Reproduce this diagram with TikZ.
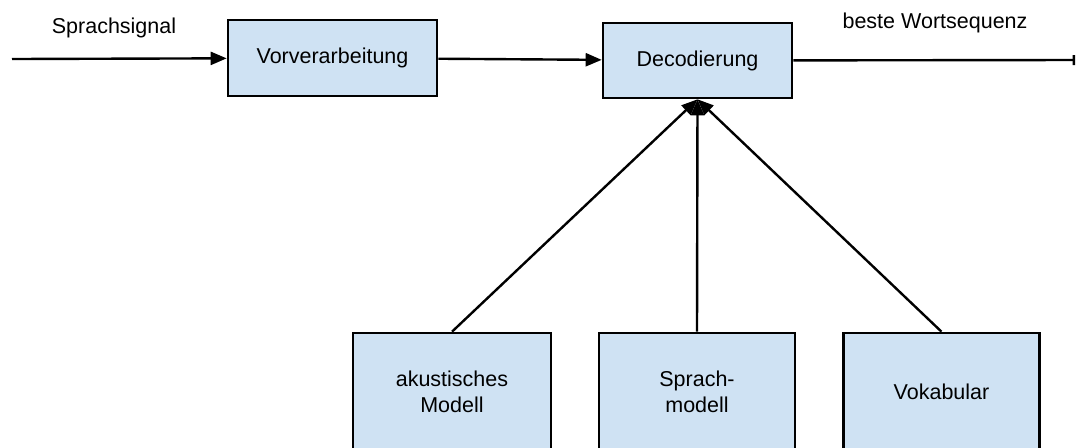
\documentclass[tikz,border=0pt]{standalone}
\usepackage{fontspec}
\setmainfont{Liberation Sans}
\usetikzlibrary{arrows.meta,positioning}
\definecolor{boxblue}{HTML}{CFE2F3}
\tikzset{
  blockbox/.style={draw,line width=1.3pt,fill=boxblue,align=center,
    font=\fontsize{10.75}{13}\selectfont},
  flow/.style={line width=1.2pt,-{Triangle[length=8pt,width=6.5pt]}}
}
\begin{document}
\begin{tikzpicture}[x=0.5pt,y=-0.5pt,font=\fontsize{10.75}{13}\selectfont]
    \useasboundingbox (0,0) rectangle (1076,447);
    \node[blockbox,minimum width=104.5pt,minimum height=38pt] (vor) at (332.5,58) {Vorverarbeitung};
    \node[blockbox,minimum width=94.5pt,minimum height=37.5pt] (dec) at (697.5,60.5) {Decodierung};
    \node[blockbox,minimum width=99pt,minimum height=59pt] (akm) at (452,392) {akustisches\\Modell};
    \node[blockbox,minimum width=98pt,minimum height=59pt] (spm) at (697,392) {Sprach-\\modell};
    \node[blockbox,minimum width=98pt,minimum height=59pt] (vok) at (941.5,392) {Vokabular};
    \coordinate (in) at (12,59);
    \coordinate (out) at (1075,60);
    \draw[flow] (in) -- (vor);
    \draw[flow] (vor) -- (dec);
    \draw[line width=1.2pt,-{Bar[width=5pt]}] (dec) -- (out);
    \draw[flow] (akm.north) -- (dec.south);
    \draw[flow] (spm.north) -- (dec.south);
    \draw[flow] (vok.north) -- (dec.south);
    \node (sig) at (114,28) {Sprachsignal};
    \node (best) at (935,23) {beste Wortsequenz};
  \end{tikzpicture}
\end{document}
